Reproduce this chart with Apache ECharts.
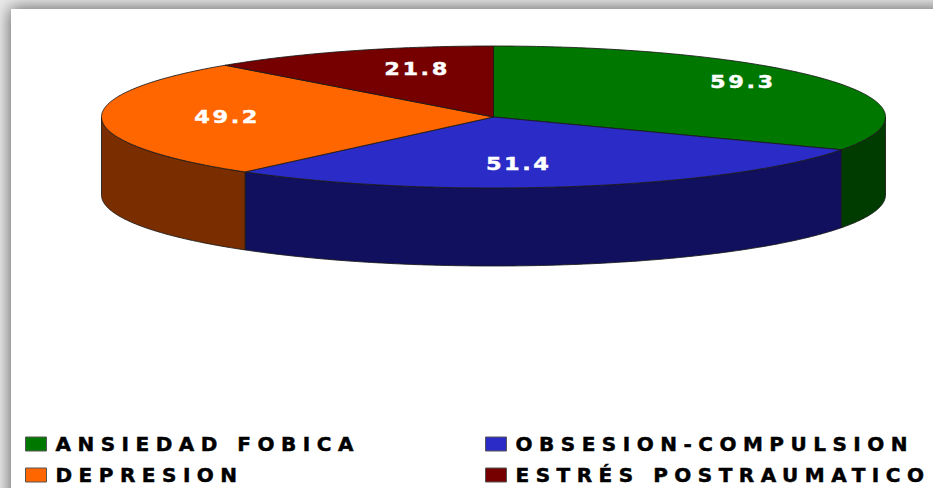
<!DOCTYPE html>
<html>
<head>
<meta charset="utf-8">
<script src="https://cdn.jsdelivr.net/npm/echarts@6/dist/echarts.min.js"></script>
<style>
  html, body { margin: 0; padding: 0; background: #ececec; overflow: hidden; }
  #panel { position: absolute; left: 11px; top: 9px; width: 1000px; height: 600px; background: #fff; box-shadow: 0 0 16px 1px rgba(0,0,0,.6); }
  #main { position: absolute; left: 0; top: 0; width: 933px; height: 488px; }
  /* canvas text has no letter spacing in echarts, so it goes through the svg renderer */
  #main text[style*="20px"] { letter-spacing: 6.5px; stroke: #000; stroke-width: 0.5px; }
  #main text[style*="18px"] { letter-spacing: 2px; stroke: #fff; stroke-width: 0.4px; }
</style>
</head>
<body>
<div id="panel"></div>
<div id="main"></div>
<script>
  const categories = ['ANSIEDAD FOBICA', 'OBSESION-COMPULSION', 'DEPRESION', 'ESTRÉS POSTRAUMATICO']
  const values = [59.3, 51.4, 49.2, 21.8]
  const topColors = ['#007800', '#2b2bc8', '#ff6600', '#760000']
  const sideColors = ['#003c00', '#10105f', '#7a2e00', '#3b0000']
  // label placement as fraction of the radius, x and y
  const labelPos = [[0.744, 0.96], [0.32, 0.67], [0.68, 0.0], [0.53, 0.73]]

  const cx = 493.5, cy = 117, rx = 392, ry = 71, depth = 78
  const total = values.reduce((a, b) => a + b, 0)
  const edge = 'rgba(25,25,25,0.85)'

  // angle runs clockwise from 12 o'clock
  function pt (a, dy) {
    return [cx + rx * Math.sin(a), cy - ry * Math.cos(a) + (dy || 0)]
  }

  function arc (a0, a1, dy) {
    let pts = []
    let n = Math.max(2, Math.ceil((a1 - a0) / 0.01))
    for (let i = 0; i <= n; i++) {
      pts.push(pt(a0 + (a1 - a0) * i / n, dy))
    }
    return pts
  }

  function renderSlice (idx) {
    return function () {
      let before = values.slice(0, idx).reduce((a, b) => a + b, 0)
      let a0 = before / total * Math.PI * 2
      let a1 = (before + values[idx]) / total * Math.PI * 2
      let children = []

      // only the front half of the rim shows a wall
      let w0 = Math.max(a0, Math.PI / 2)
      let w1 = Math.min(a1, Math.PI * 1.5)
      if (w1 > w0) {
        children.push({
          type: 'polygon',
          shape: { points: arc(w0, w1, 0).concat(arc(w0, w1, depth).reverse()) },
          style: { fill: sideColors[idx], stroke: edge, lineWidth: 1 }
        })
      }

      children.push({
        type: 'polygon',
        shape: { points: [[cx, cy]].concat(arc(a0, a1, 0)) },
        style: { fill: topColors[idx], stroke: edge, lineWidth: 1 }
      })

      let mid = (a0 + a1) / 2
      children.push({
        type: 'text',
        x: cx + rx * Math.sin(mid) * labelPos[idx][0],
        y: cy - ry * Math.cos(mid) * labelPos[idx][1],
        scaleX: 1.25,
        style: {
          text: String(values[idx]),
          align: 'center',
          verticalAlign: 'middle',
          fill: '#fff',
          fontSize: 18,
          fontWeight: 'bold',
          fontFamily: 'DejaVu Sans'
        }
      })
      return { type: 'group', children: children }
    }
  }

  function legendBlock (names, left) {
    return {
      data: names,
      orient: 'vertical',
      left: left,
      top: 434,
      itemWidth: 21,
      itemHeight: 14,
      itemGap: 11,
      padding: 0,
      icon: 'rect',
      selectedMode: false,
      itemStyle: { borderColor: '#555', borderWidth: 1 },
      textStyle: {
        color: '#000',
        fontSize: 20,
        fontWeight: 'bold',
        fontFamily: 'DejaVu Sans',
        padding: [0, 0, 0, 4]
      }
    }
  }

  let myecharts = echarts.init(document.getElementById('main'), null, { renderer: 'svg' })
  myecharts.setOption({
    animation: false,
    legend: [
      legendBlock([categories[0], categories[2]], 25),
      legendBlock([categories[1], categories[3]], 485)
    ],
    series: categories.map((name, i) => ({
      name: name,
      type: 'custom',
      coordinateSystem: 'none',
      itemStyle: { color: topColors[i] },
      renderItem: renderSlice(i),
      data: [values[i]]
    }))
  })
</script>
</body>
</html>
